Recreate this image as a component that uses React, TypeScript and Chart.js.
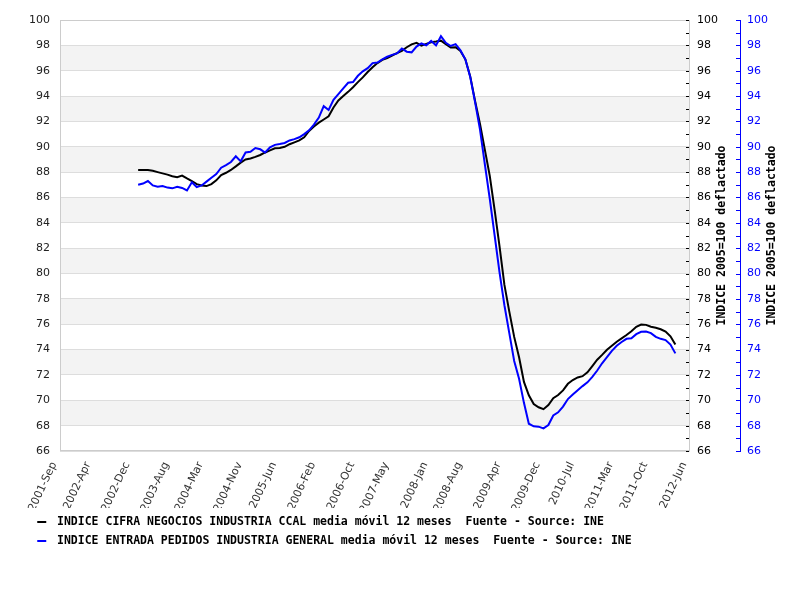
import { useEffect, useRef } from 'react';
import { Chart, registerables } from 'chart.js';

Chart.register(...registerables);

const MONTHS = ['Jan', 'Feb', 'Mar', 'Apr', 'May', 'Jun', 'Jul', 'Aug', 'Sep', 'Oct', 'Nov', 'Dec'];
const categories: string[] = [];
for (let i = 0; i < 130; i++) {
  const mi = 8 + i;
  categories.push(`${2001 + Math.floor(mi / 12)}-${MONTHS[mi % 12]}`);
}

const tickLabels = [
  '2001-Sep', '2002-Apr', '2002-Dec', '2003-Aug', '2004-Mar', '2004-Nov', '2005-Jun', '2006-Feb', '2006-Oct',
  '2007-May', '2008-Jan', '2008-Aug', '2009-Apr', '2009-Dec', '2010-Jul', '2011-Mar', '2011-Oct', '2012-Jun',
];

const seriesStart = '2003-Jan';

const cifraLabel = 'INDICE CIFRA NEGOCIOS INDUSTRIA CCAL media móvil 12 meses  Fuente - Source: INE';
const pedidosLabel = 'INDICE ENTRADA PEDIDOS INDUSTRIA GENERAL media móvil 12 meses  Fuente - Source: INE';

const cifraValues = [
  88.17, 88.17, 88.17, 88.1, 88.0, 87.9, 87.8, 87.68, 87.6, 87.72,
  87.5, 87.3, 87.05, 86.95, 86.9, 87.05, 87.35, 87.77, 87.95, 88.17,
  88.45, 88.75, 89.0, 89.08, 89.2, 89.35, 89.55, 89.72, 89.88, 89.9,
  90.0, 90.2, 90.35, 90.5, 90.75, 91.25, 91.6, 91.9, 92.15, 92.4,
  93.1, 93.65, 94.0, 94.33, 94.7, 95.1, 95.47, 95.9, 96.27, 96.6,
  96.85, 97.0, 97.2, 97.38, 97.57, 97.85, 98.08, 98.2,
  97.97, 98.12, 98.25, 98.3, 98.37, 98.1, 97.83, 97.85, 97.55, 96.9,
  95.55, 93.6, 91.8, 89.75, 87.7, 85.0, 82.15, 79.1, 77.0, 75.0, 73.4,
  71.45, 70.4, 69.7, 69.45, 69.3, 69.63, 70.16, 70.42, 70.78, 71.3,
  71.6, 71.8, 71.9, 72.2, 72.7, 73.2, 73.58, 73.98, 74.3, 74.62,
  74.88, 75.15, 75.45, 75.8, 75.97, 75.95, 75.8, 75.72, 75.6, 75.42, 75.05, 74.4,
];

const pedidosValues = [
  87.0, 87.1, 87.3, 86.95, 86.85, 86.9, 86.78, 86.72, 86.85, 86.75,
  86.55, 87.2, 86.82, 86.95, 87.25, 87.55, 87.85, 88.35, 88.56, 88.8,
  89.25, 88.85, 89.55, 89.6, 89.9, 89.8, 89.55, 89.95, 90.15, 90.22,
  90.3, 90.5, 90.6, 90.75, 91.0, 91.3, 91.75, 92.3, 93.2, 92.9,
  93.7, 94.15, 94.6, 95.05, 95.1, 95.6, 95.95, 96.2, 96.6, 96.65,
  96.9, 97.1, 97.25, 97.37, 97.75, 97.5, 97.45, 97.9,
  98.15, 98.0, 98.35, 98.0, 98.72, 98.2, 97.95, 98.1, 97.6, 96.9,
  95.5, 93.5, 91.35, 88.6, 85.9, 83.0, 80.1, 77.5, 75.3, 73.1, 71.7,
  69.8, 68.15, 67.95, 67.92, 67.78, 68.05, 68.8, 69.05, 69.5, 70.1,
  70.45, 70.8, 71.12, 71.42, 71.85, 72.35, 72.92, 73.4, 73.9, 74.3,
  74.6, 74.85, 74.9, 75.22, 75.4, 75.42, 75.3, 75.0, 74.85, 74.75, 74.4, 73.7,
];

const Y_MIN = 66;
const Y_MAX = 100;
const Y_STEP = 2;
const axisTitle = 'INDICE 2005=100 deflactado';

function placeSeries(values: number[]): (number | null)[] {
  const start = categories.indexOf(seriesStart);
  return categories.map((_, i) => (i >= start && i - start < values.length ? values[i - start] : null));
}

function makeSwatch(color: string): HTMLCanvasElement {
  const c = document.createElement('canvas');
  c.width = 18;
  c.height = 2;
  const g = c.getContext('2d');
  if (g) {
    g.fillStyle = color;
    g.fillRect(4, 0, 9, 2);
  }
  return c;
}

const monoFont = { family: '"DejaVu Sans Mono", monospace', size: 11.5, weight: 'bold' as const };
const tickFont = { family: '"DejaVu Sans", sans-serif', size: 11 };

const decorPlugin = {
  id: 'decor',
  beforeDraw(chart: any) {
    const { ctx, chartArea: a, scales } = chart;
    const y = scales.y;
    ctx.save();
    ctx.fillStyle = '#f3f3f3';
    for (let v = Y_MIN; v < Y_MAX; v += Y_STEP) {
      if (((v - Y_MIN) / Y_STEP) % 2 === 1) {
        const top = y.getPixelForValue(v + Y_STEP);
        const bot = y.getPixelForValue(v);
        ctx.fillRect(a.left, top, a.right - a.left, bot - top);
      }
    }
    ctx.restore();
  },
  beforeDatasetsDraw(chart: any) {
    const { ctx, chartArea: a, scales } = chart;
    ctx.save();
    ctx.strokeStyle = '#cccccc';
    ctx.lineWidth = 1;
    const l = Math.round(a.left) + 0.5;
    const t = Math.round(a.top) + 0.5;
    const r = Math.round(a.right) - 0.5;
    const b = Math.round(a.bottom) - 0.5;
    ctx.strokeRect(l, t, r - l, b - t);
    const y1 = scales.y1;
    const y2 = scales.y2;
    for (let v = Y_MIN; v <= Y_MAX; v += 1) {
      const p1 = Math.round(y1.getPixelForValue(v)) + 0.5;
      ctx.strokeStyle = '#000000';
      ctx.beginPath();
      ctx.moveTo(Math.round(a.right) - 4, p1);
      ctx.lineTo(Math.round(a.right) - 1, p1);
      ctx.stroke();
      const p2 = Math.round(y2.getPixelForValue(v)) + 0.5;
      ctx.strokeStyle = '#0000ff';
      ctx.beginPath();
      ctx.moveTo(Math.round(y2.left) - 4, p2);
      ctx.lineTo(Math.round(y2.left), p2);
      ctx.stroke();
    }
    ctx.restore();
  },
  afterDraw(chart: any) {
    const { ctx, chartArea: a, scales } = chart;
    ctx.save();
    ctx.font = `bold ${monoFont.size}px ${monoFont.family}`;
    ctx.fillStyle = '#000000';
    ctx.textAlign = 'center';
    ctx.textBaseline = 'middle';
    const cy = (a.top + a.bottom) / 2;
    [[scales.y1, 32], [scales.y2, 32.5]].forEach(([s, off]: any) => {
      ctx.save();
      ctx.translate(s.left + off, cy);
      ctx.rotate(-Math.PI / 2);
      ctx.fillText(axisTitle, 0, 0);
      ctx.restore();
    });
    ctx.restore();
  },
};

export default function App() {
  const canvasRef = useRef<HTMLCanvasElement | null>(null);

  useEffect(() => {
    if (!canvasRef.current) return;
    const chart = new Chart(canvasRef.current, {
      type: 'line',
      data: {
        labels: categories,
        datasets: [
          {
            label: cifraLabel,
            data: placeSeries(cifraValues),
            borderColor: '#000000',
            backgroundColor: '#000000',
            borderWidth: 2,
            pointRadius: 0,
            pointStyle: makeSwatch('#000000'),
            tension: 0,
            yAxisID: 'y1',
            order: 1,
          },
          {
            label: pedidosLabel,
            data: placeSeries(pedidosValues),
            borderColor: '#0000ff',
            backgroundColor: '#0000ff',
            borderWidth: 2,
            pointRadius: 0,
            pointStyle: makeSwatch('#0000ff'),
            tension: 0,
            yAxisID: 'y2',
            order: 0,
          },
        ],
      },
      options: {
        responsive: false,
        animation: false,
        devicePixelRatio: 1,
        layout: { padding: { left: 25.25, right: 0, top: 20, bottom: 43 } },
        plugins: {
          tooltip: { enabled: false },
          legend: {
            position: 'bottom',
            align: 'start',
            labels: {
              usePointStyle: true,
              pointStyleWidth: 18,
              padding: 8,
              color: '#000000',
              font: monoFont,
              sort: (a: any, b: any) => a.datasetIndex - b.datasetIndex,
            },
          },
        },
        scales: {
          x: {
            type: 'category',
            offset: false,
            grid: { display: false, drawTicks: false },
            border: { display: false },
            ticks: {
              autoSkip: false,
              minRotation: 65,
              maxRotation: 65,
              padding: 9,
              labelOffset: -6,
              color: '#333333',
              font: tickFont,
              callback: (_v: any, i: number) => (tickLabels.includes(categories[i]) ? categories[i] : null),
            },
            afterFit: (s: any) => { s.height = 57; },
          },
          y: {
            position: 'left',
            min: Y_MIN,
            max: Y_MAX,
            ticks: { stepSize: Y_STEP, padding: 10, color: '#222222', font: tickFont },
            grid: { color: '#dddddd', drawTicks: false },
            border: { display: false },
            afterFit: (s: any) => { s.width = 34.75; },
          },
          y1: {
            position: 'right',
            min: Y_MIN,
            max: Y_MAX,
            ticks: { stepSize: Y_STEP, padding: 7, color: '#000000', font: tickFont },
            grid: { display: false, drawTicks: false },
            border: { display: false },
            afterFit: (s: any) => { s.width = 50; },
          },
          y2: {
            position: 'right',
            weight: 1,
            min: Y_MIN,
            max: Y_MAX,
            ticks: { stepSize: Y_STEP, padding: 7, color: '#0000ff', font: tickFont },
            grid: { display: false, drawTicks: false },
            border: { display: true, color: '#0000ff', width: 1 },
            afterFit: (s: any) => { s.width = 60; },
          },
        },
      },
      plugins: [decorPlugin],
    });
    return () => chart.destroy();
  }, []);

  return (
    <div style={{ position: 'absolute', left: 0, top: 0, width: 800, height: 600, background: '#ffffff' }}>
      <canvas ref={canvasRef} width={800} height={600} style={{ display: 'block' }} />
    </div>
  );
}
